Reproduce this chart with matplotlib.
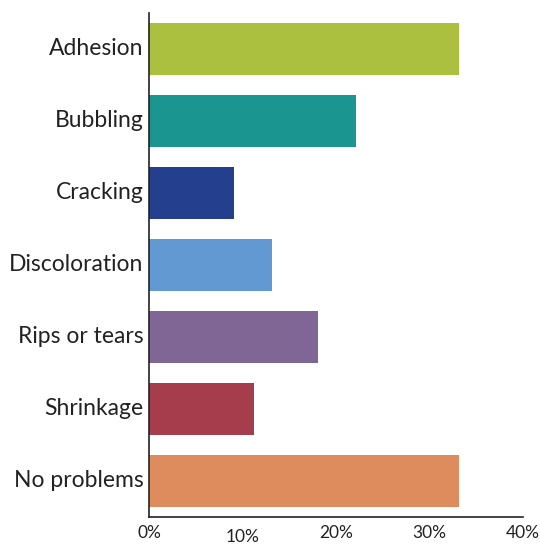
import matplotlib
matplotlib.use("Agg")
import matplotlib.pyplot as plt
import matplotlib.transforms as mtransforms

categories = ['Adhesion', 'Bubbling', 'Cracking', 'Discoloration',
              'Rips or tears', 'Shrinkage', 'No problems']
values = [33.2, 22.1, 9.1, 13.1, 18.1, 11.2, 33.2]
colors = ['#abc03e', '#1b9590', '#233f8e', '#6399d2',
          '#806695', '#a63d4d', '#de8c5e']
xticks = [0, 10, 20, 30, 40]
xticklabels = ['0%', '10%', '20%', '30%', '40%']

plt.rcParams['font.family'] = ['Lato', 'DejaVu Sans']

fig = plt.figure(figsize=(5.4, 5.44), dpi=100)
ax = fig.add_axes([0.276, 0.0496, 0.6925, 0.9264])

ax.barh(range(len(categories)), values, height=0.72, color=colors)

ax.set_xlim(0, 40)
ax.set_ylim(len(categories) - 0.5, -0.5)
ax.set_yticks(range(len(categories)))
ax.set_yticklabels(categories, fontsize=16.5, color='#222222')
ax.tick_params(axis='y', length=0, pad=4)
# labels sit a touch above the bar centre in the original
shift = mtransforms.ScaledTranslation(0, 2.5 / 100, fig.dpi_scale_trans)
for lab in ax.get_yticklabels():
    lab.set_transform(lab.get_transform() + shift)

# x labels drawn by hand, the 10% one sits a bit lower in the original
ax.set_xticks([])
trans = mtransforms.blended_transform_factory(ax.transData, ax.transAxes)
for v, lab in zip(xticks, xticklabels):
    dy = -12 if v == 10 else -8
    ax.annotate(lab, (v, 0), xycoords=trans, xytext=(0, dy),
                textcoords='offset pixels', ha='center', va='top',
                fontsize=12.5, color='#222222')

for s in ['top', 'right']:
    ax.spines[s].set_visible(False)
ax.spines['left'].set_color('#222222')
ax.spines['bottom'].set_color('#222222')
ax.spines['left'].set_linewidth(1.2)
ax.spines['bottom'].set_linewidth(1.2)

fig.savefig('out.png', dpi=100)
